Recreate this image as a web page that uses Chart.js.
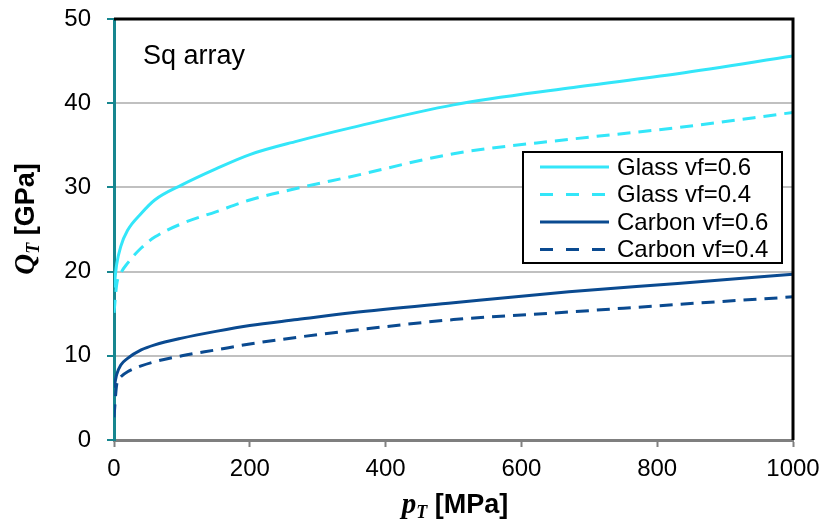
<!DOCTYPE html>
<html>
<head>
<meta charset="utf-8">
<script src="https://cdn.jsdelivr.net/npm/chart.js@4.4.0/dist/chart.umd.min.js"></script>
<style>
  html, body { margin: 0; padding: 0; background: #fff; }
  #wrap { width: 824px; height: 522px; }
</style>
</head>
<body>
<div id="wrap"><canvas id="chart" width="824" height="522"></canvas></div>
<script>
// pressure p_T [MPa]
const pValues = [0, 4, 10, 20, 40, 60, 100, 150, 200, 270, 350, 500, 670, 830, 1000];
// Q_T [GPa]
const glass06 = [18.1, 20.9, 23.0, 24.9, 26.9, 28.5, 30.3, 32.2, 33.9, 35.5, 37.1, 39.8, 41.8, 43.5, 45.6];
const glass04 = [15.1, 18.5, 19.8, 21.0, 22.8, 24.1, 25.7, 27.1, 28.5, 29.9, 31.3, 34.0, 35.7, 37.1, 38.9];
const carbon06 = [6.2, 7.8, 8.9, 9.7, 10.7, 11.3, 12.1, 12.9, 13.6, 14.3, 15.1, 16.3, 17.6, 18.6, 19.7];
const carbon04 = [2.7, 6.6, 7.5, 8.1, 8.8, 9.3, 10.0, 10.7, 11.4, 12.2, 13.0, 14.3, 15.2, 16.1, 17.0];
const seriesLabels = ["Glass vf=0.6", "Glass vf=0.4", "Carbon vf=0.6", "Carbon vf=0.4"];
const xTicks = [0, 200, 400, 600, 800, 1000];
const yTicks = [0, 10, 20, 30, 40, 50];

const CYAN = "#33E6F9";
const NAVY = "#0A4A90";
const FONT = "Arial, 'Liberation Sans', sans-serif";
const SERIF = "'Times New Roman', 'Liberation Serif', serif";

const toPts = (ys) => pValues.map((p, i) => ({ x: p, y: ys[i] }));

function makeSet(label, ys, color, dashed) {
  return {
    label,
    data: toPts(ys),
    borderColor: color,
    backgroundColor: color,
    borderWidth: 3,
    borderDash: dashed ? [13, 8] : [],
    pointRadius: 0,
    showLine: true,
    cubicInterpolationMode: "monotone",
    fill: false,
  };
}

// text with italic serif symbol + subscript, then bold unit
function drawAxisTitle(ctx, sym, sub, unit) {
  ctx.font = "italic bold 29px " + SERIF;
  const w1 = ctx.measureText(sym).width;
  ctx.font = "italic bold 18px " + SERIF;
  const w2 = ctx.measureText(sub).width;
  ctx.font = "bold 27px " + FONT;
  const w3 = ctx.measureText(" " + unit).width;
  let x = -(w1 + w2 + w3) / 2;
  ctx.textBaseline = "alphabetic";
  ctx.textAlign = "left";
  ctx.fillStyle = "#000";
  ctx.font = "italic bold 29px " + SERIF;
  ctx.fillText(sym, x, 0);
  x += w1;
  ctx.font = "italic bold 18px " + SERIF;
  ctx.fillText(sub, x, 5);
  x += w2;
  ctx.font = "bold 27px " + FONT;
  ctx.fillText(" " + unit, x, 0);
}

const decorations = {
  id: "decorations",
  afterDatasetsDraw(chart) {
    const { ctx, chartArea: a } = chart;
    ctx.save();
    // top and right frame
    ctx.strokeStyle = "#000";
    ctx.lineWidth = 3;
    ctx.beginPath();
    ctx.moveTo(a.left, a.top);
    ctx.lineTo(a.right, a.top);
    ctx.lineTo(a.right, a.bottom);
    ctx.stroke();

    // panel label
    ctx.fillStyle = "#000";
    ctx.font = "27px " + FONT;
    ctx.textAlign = "left";
    ctx.textBaseline = "alphabetic";
    ctx.fillText("Sq array", 143, 64);

    // legend
    const lx = 523, ly = 152, lw = 259, lh = 111;
    ctx.fillStyle = "#fff";
    ctx.fillRect(lx, ly, lw, lh);
    ctx.strokeStyle = "#000";
    ctx.lineWidth = 2;
    ctx.strokeRect(lx, ly, lw, lh);
    ctx.font = "24px " + FONT;
    ctx.textBaseline = "middle";
    chart.data.datasets.forEach((ds, i) => {
      const y = ly + 15 + i * 27.5;
      ctx.strokeStyle = ds.borderColor;
      ctx.lineWidth = 3;
      ctx.setLineDash(ds.borderDash.length ? [13, 13] : []);
      ctx.beginPath();
      ctx.moveTo(540, y);
      ctx.lineTo(609, y);
      ctx.stroke();
      ctx.setLineDash([]);
      ctx.fillStyle = "#000";
      ctx.fillText(ds.label, 617, y + 1);
    });

    // axis titles
    ctx.save();
    ctx.translate(455, 513);
    drawAxisTitle(ctx, "p", "T", "[MPa]");
    ctx.restore();
    ctx.save();
    ctx.translate(34, 219);
    ctx.rotate(-Math.PI / 2);
    drawAxisTitle(ctx, "Q", "T", "[GPa]");
    ctx.restore();
    ctx.restore();
  },
};

new Chart(document.getElementById("chart"), {
  type: "scatter",
  data: {
    datasets: [
      makeSet(seriesLabels[0], glass06, CYAN, false),
      makeSet(seriesLabels[1], glass04, CYAN, true),
      makeSet(seriesLabels[2], carbon06, NAVY, false),
      makeSet(seriesLabels[3], carbon04, NAVY, true),
    ],
  },
  options: {
    responsive: false,
    animation: false,
    layout: { padding: { top: 19, right: 31, left: 0, bottom: 0 } },
    plugins: { legend: { display: false }, tooltip: { enabled: false } },
    scales: {
      x: {
        type: "linear",
        min: 0,
        max: 1000,
        afterBuildTicks: (s) => { s.ticks = xTicks.map((v) => ({ value: v })); },
        afterFit: (s) => {
          s.height = 82;
          s.paddingLeft = 0;
          s.paddingRight = 0;
        },
        ticks: {
          color: "#000",
          font: { family: FONT, size: 24 },
          padding: 8,
          maxRotation: 0,
          callback: (v) => String(v),
        },
        grid: { drawOnChartArea: false, drawTicks: true, tickLength: 7, tickColor: "#808080", tickWidth: 2 },
        border: { color: "#7F7F7F", width: 3 },
      },
      y: {
        min: 0,
        max: 50,
        afterBuildTicks: (s) => { s.ticks = yTicks.map((v) => ({ value: v })); },
        afterFit: (s) => {
          s.width = 114;
          s.paddingTop = 0;
          s.paddingBottom = 0;
        },
        ticks: { color: "#000", font: { family: FONT, size: 24 }, padding: 16 },
        grid: {
          color: (c) => (c.tick && (c.tick.value === 0 || c.tick.value === 50) ? "rgba(0,0,0,0)" : "#C0C0C0"),
          lineWidth: 2,
          tickLength: 7,
          tickColor: "#17868F",
          tickWidth: 2,
        },
        border: { color: "#17868F", width: 3 },
      },
    },
  },
  plugins: [decorations],
});
</script>
</body>
</html>
